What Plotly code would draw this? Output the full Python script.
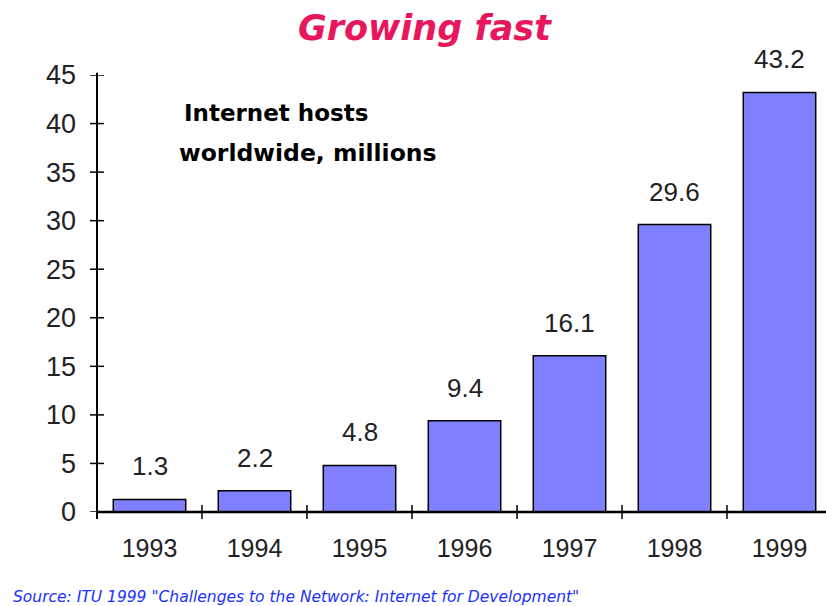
import plotly.graph_objects as go

# Internet hosts worldwide (millions)
years = ["1993", "1994", "1995", "1996", "1997", "1998", "1999"]
hosts = [1.3, 2.2, 4.8, 9.4, 16.1, 29.6, 43.2]
y_ticks = [0, 5, 10, 15, 20, 25, 30, 35, 40, 45]

W, H = 826, 606
L, R, T, B = 97, 0, 75, 94
PW, PH = W - L - R, H - T - B
TICK = 7  # half-length of the crossing tick marks, px
SANS = "Liberation Sans, Arial"
WIDE = "DejaVu Sans, Verdana"

fig = go.Figure(go.Bar(
    x=list(range(len(years))), y=hosts, width=0.69,
    marker=dict(color="#8080FF", line=dict(color="black", width=1.5)),
    customdata=years, hovertemplate="%{customdata}: %{y}<extra></extra>",
))

# value labels above each bar
for i, v in enumerate(hosts):
    fig.add_annotation(x=i, y=v, text=f"{v}", showarrow=False, yshift=33,
                       xanchor="center", yanchor="middle",
                       font=dict(family=SANS, size=26, color="#222"))

shapes = []
# y-axis tick marks crossing the axis line
for t in y_ticks:
    shapes.append(dict(type="line", xref="paper", yref="y",
                       x0=-TICK / PW, x1=TICK / PW, y0=t, y1=t,
                       line=dict(color="black", width=1.5)))
# x-axis tick marks at category boundaries
for i in range(1, len(years)):
    shapes.append(dict(type="line", xref="x", yref="paper",
                       x0=i - 0.5, x1=i - 0.5, y0=-TICK / PH, y1=TICK / PH,
                       line=dict(color="black", width=1.5)))
# axis lines
shapes.append(dict(type="line", xref="paper", yref="paper", x0=0, x1=0,
                   y0=-TICK / PH, y1=1.005, line=dict(color="black", width=2)))
shapes.append(dict(type="line", xref="paper", yref="paper", x0=0, x1=1,
                   y0=0, y1=0, line=dict(color="black", width=2.5)))

fig.update_layout(
    width=W, height=H,
    margin=dict(l=L, r=R, t=T, b=B),
    paper_bgcolor="white", plot_bgcolor="white",
    showlegend=False,
    shapes=shapes,
    xaxis=dict(range=[-0.5, -0.5 + PW / 105.0],
               tickvals=list(range(len(years))), ticktext=years,
               showgrid=False, zeroline=False, showline=False, ticks="",
               ticklabelstandoff=19,
               tickfont=dict(family=SANS, size=25, color="#222")),
    yaxis=dict(range=[0, 45], tickvals=y_ticks, showgrid=False, zeroline=False,
               showline=False, ticks="", ticklabelstandoff=20,
               tickfont=dict(family=SANS, size=27, color="#222")),
)


def paper_y(py):
    return (H - B - py) / PH


def paper_x(px):
    return (px - L) / PW


fig.add_annotation(xref="paper", yref="paper", x=paper_x(425), y=paper_y(28),
                   xanchor="center", yanchor="middle",
                   text="<b><i>Growing fast</i></b>", showarrow=False,
                   font=dict(family=WIDE, size=35, color="#E8175D"))
fig.add_annotation(xref="paper", yref="paper", x=paper_x(182), y=paper_y(113),
                   xanchor="left", yanchor="middle",
                   text="<b>Internet hosts</b>", showarrow=False,
                   font=dict(family=WIDE, size=23, color="black"))
fig.add_annotation(xref="paper", yref="paper", x=paper_x(177), y=paper_y(153),
                   xanchor="left", yanchor="middle",
                   text="<b>worldwide, millions</b>", showarrow=False,
                   font=dict(family=WIDE, size=23.5, color="black"))
fig.add_annotation(xref="paper", yref="paper", x=paper_x(11), y=paper_y(597),
                   xanchor="left", yanchor="middle",
                   text='<i>Source: ITU 1999 "Challenges to the Network: Internet for Development"</i>',
                   showarrow=False,
                   font=dict(family=WIDE, size=15.5, color="#2030FF"))

fig.write_html("out.html")
